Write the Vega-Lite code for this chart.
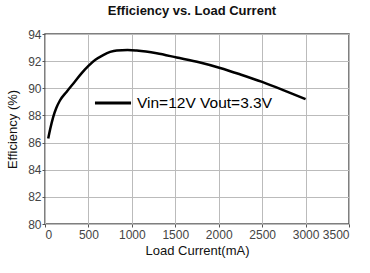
{
  "$schema": "https://vega.github.io/schema/vega-lite/v6.json",
  "autosize": {"type": "none"},
  "padding": {"left": 45, "top": 34, "right": 21, "bottom": 49},
  "width": 304,
  "height": 190,
  "background": "white",
  "title": {
    "text": "Efficiency vs. Load Current",
    "font": "Liberation Sans",
    "fontSize": 13,
    "fontWeight": "bold",
    "color": "#111",
    "anchor": "middle",
    "dx": -5,
    "offset": 10
  },
  "config": {
    "view": {"stroke": "#555", "strokeWidth": 1.5},
    "axis": {
      "labelFont": "Liberation Sans",
      "titleFont": "Liberation Sans",
      "labelFontSize": 12,
      "labelColor": "#444",
      "titleFontSize": 13,
      "titleFontWeight": "normal",
      "titleColor": "#111",
      "gridColor": "#bbb",
      "gridWidth": 1,
      "domain": false,
      "tickColor": "#555",
      "tickSize": 3,
      "labelOverlap": false
    }
  },
  "data": {
    "values": [
      {"current": 37, "eff": 86.3, "series": "Vin=12V Vout=3.3V"},
      {"current": 60, "eff": 87.0, "series": "Vin=12V Vout=3.3V"},
      {"current": 95, "eff": 87.9, "series": "Vin=12V Vout=3.3V"},
      {"current": 130, "eff": 88.55, "series": "Vin=12V Vout=3.3V"},
      {"current": 172, "eff": 89.1, "series": "Vin=12V Vout=3.3V"},
      {"current": 250, "eff": 89.75, "series": "Vin=12V Vout=3.3V"},
      {"current": 345, "eff": 90.5, "series": "Vin=12V Vout=3.3V"},
      {"current": 420, "eff": 91.1, "series": "Vin=12V Vout=3.3V"},
      {"current": 500, "eff": 91.65, "series": "Vin=12V Vout=3.3V"},
      {"current": 580, "eff": 92.1, "series": "Vin=12V Vout=3.3V"},
      {"current": 670, "eff": 92.45, "series": "Vin=12V Vout=3.3V"},
      {"current": 750, "eff": 92.68, "series": "Vin=12V Vout=3.3V"},
      {"current": 826, "eff": 92.79, "series": "Vin=12V Vout=3.3V"},
      {"current": 950, "eff": 92.82, "series": "Vin=12V Vout=3.3V"},
      {"current": 1056, "eff": 92.78, "series": "Vin=12V Vout=3.3V"},
      {"current": 1286, "eff": 92.58, "series": "Vin=12V Vout=3.3V"},
      {"current": 1516, "eff": 92.27, "series": "Vin=12V Vout=3.3V"},
      {"current": 1785, "eff": 91.9, "series": "Vin=12V Vout=3.3V"},
      {"current": 2016, "eff": 91.5, "series": "Vin=12V Vout=3.3V"},
      {"current": 2250, "eff": 91.02, "series": "Vin=12V Vout=3.3V"},
      {"current": 2500, "eff": 90.47, "series": "Vin=12V Vout=3.3V"},
      {"current": 2750, "eff": 89.85, "series": "Vin=12V Vout=3.3V"},
      {"current": 3000, "eff": 89.2, "series": "Vin=12V Vout=3.3V"}
    ]
  },
  "mark": {"type": "line", "interpolate": "monotone", "strokeWidth": 2.5},
  "encoding": {
    "x": {
      "field": "current",
      "type": "quantitative",
      "scale": {"domain": [0, 3500], "nice": false},
      "axis": {"values": [0, 500, 1000, 1500, 2000, 2500, 3000, 3500], "format": "d", "title": "Load Current(mA)", "titlePadding": 4, "labelPadding": 2}
    },
    "y": {
      "field": "eff",
      "type": "quantitative",
      "scale": {"domain": [80, 94], "nice": false, "zero": false},
      "axis": {"values": [80, 82, 84, 86, 88, 90, 92, 94], "title": "Efficiency (%)", "titlePadding": 8, "labelPadding": 1}
    },
    "color": {
      "field": "series",
      "type": "nominal",
      "scale": {"range": ["#000000"]},
      "legend": {
        "orient": "none",
        "legendX": 48,
        "legendY": 49,
        "title": null,
        "symbolType": "stroke",
        "symbolSize": 1300,
        "symbolStrokeWidth": 3,
        "labelFont": "Liberation Sans",
        "labelFontSize": 15.5,
        "labelColor": "#000",
        "labelOffset": 4
      }
    }
  }
}
